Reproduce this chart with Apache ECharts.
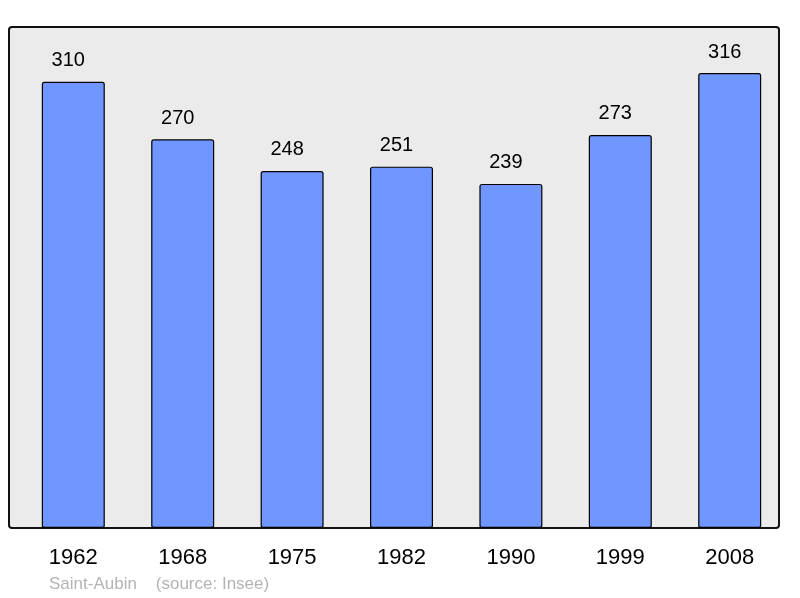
<!DOCTYPE html>
<html lang="fr">
<head>
<meta charset="UTF-8">
<title>Saint-Aubin population</title>
<script src="https://cdn.jsdelivr.net/npm/echarts@6/dist/echarts.min.js"></script>
<style>
  html, body { margin: 0; padding: 0; background: #fff; }
  #main { width: 800px; height: 598px; }
</style>
</head>
<body>
<div id="main"></div>
<script>
// données
var years = ['1962', '1968', '1975', '1982', '1990', '1999', '2008'];
var population = [310, 270, 248, 251, 239, 273, 316];
var commune = 'Saint-Aubin';
var source = '(source: Insee)';

var chart = echarts.init(document.getElementById('main'));

chart.setOption({
    animation: false,
    textStyle: { fontFamily: 'Liberation Sans, Arial, sans-serif' },
    // fond et cadre de la zone de tracé
    graphic: [
        {
            type: 'rect',
            z: 0,
            shape: { x: 9, y: 27, width: 770, height: 501, r: 3 },
            style: { fill: '#ebebeb', stroke: '#111', lineWidth: 2 }
        },
        {
            type: 'text',
            left: 49,
            top: 576,
            style: {
                text: commune + '    ' + source,
                fill: '#b4b4b4',
                font: '17px Liberation Sans, Arial, sans-serif'
            }
        }
    ],
    grid: {
        left: 18.6,
        right: 15.6,
        top: 27,
        bottom: 70
    },
    xAxis: {
        type: 'category',
        data: years,
        axisLine: { show: false },
        axisTick: { show: false },
        axisLabel: {
            color: '#000',
            fontSize: 22,
            margin: 19
        }
    },
    yAxis: {
        type: 'value',
        min: 0,
        max: 348,
        show: false,
        splitLine: { show: false }
    },
    series: [{
        type: 'bar',
        data: population,
        barWidth: 63,
        itemStyle: {
            color: '#7096ff',
            borderColor: '#000',
            borderWidth: 1.2,
            borderRadius: 2
        },
        label: {
            show: true,
            position: 'top',
            distance: 11,
            offset: [-5, 0],
            color: '#000',
            fontSize: 20
        }
    }]
});
</script>
</body>
</html>
